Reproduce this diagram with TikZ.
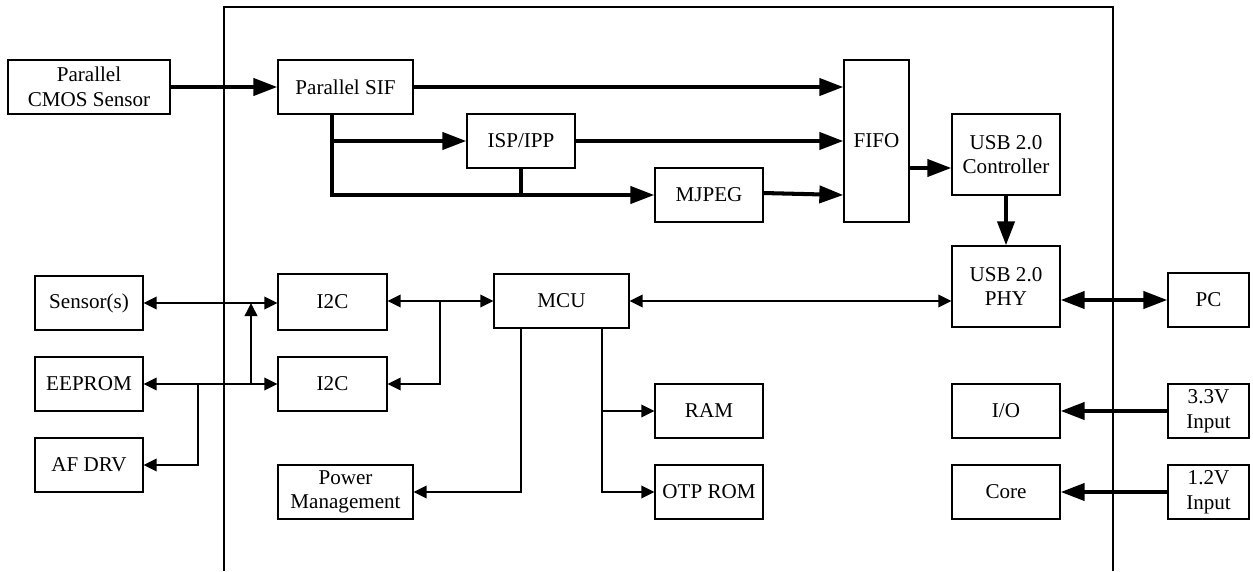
\documentclass[tikz,border=0pt]{standalone}
\usepackage{fontspec}
\setmainfont{Liberation Serif}
\usetikzlibrary{arrows.meta,calc}
\begin{document}
\begin{tikzpicture}[x=0.02cm,y=-0.02cm,
  box/.style={draw, line width=0.75pt, inner sep=0pt, align=center,
    font=\fontsize{12}{14}\selectfont, minimum width=2.16cm, minimum height=1.08cm},
  frameline/.style={line width=1.1pt},
  bigline/.style={line width=2.3pt},
  bigarrow/.style={line width=2.3pt, -{Triangle[length=0.48cm,width=0.34cm]}},
  bigboth/.style={line width=2.3pt, {Triangle[length=0.48cm,width=0.34cm]}-{Triangle[length=0.48cm,width=0.34cm]}},
  smallline/.style={line width=1.1pt},
  smallarrow/.style={line width=1.1pt, -{Triangle[length=0.26cm,width=0.25cm]}},
  smallboth/.style={line width=1.1pt, {Triangle[length=0.26cm,width=0.25cm]}-{Triangle[length=0.26cm,width=0.25cm]}}]
\useasboundingbox (0,0) rectangle (1253,571);
% chip outline
\draw[frameline] (224,571) -- (224,7) -- (1113,7) -- (1113,571);

% nodes
\node[box, minimum width=3.24cm] (cmos) at (89,87) {Parallel\\CMOS Sensor};
\node[box, minimum width=2.7cm] (sif) at (345.5,87) {Parallel SIF};
\node[box] (isp) at (521,141) {ISP/IPP};
\node[box] (mjpeg) at (709,195) {MJPEG};
\node[box, minimum width=1.3cm, minimum height=3.24cm] (fifo) at (876.5,141) {FIFO};
\node[box, minimum height=1.62cm] (usbc) at (1006,154.5) {USB 2.0\\Controller};
\node[box, minimum height=1.62cm] (phy) at (1006,286.5) {USB 2.0\\PHY};
\node[box, minimum width=1.62cm] (pc) at (1208.5,300) {PC};
\node[box] (sens) at (89,303) {Sensor(s)};
\node[box] (eeprom) at (89,384) {EEPROM};
\node[box] (afdrv) at (89,465) {AF DRV};
\node[box, minimum width=2.18cm, minimum height=1.12cm] (i2ca) at (332.5,302) {I2C};
\node[box, minimum width=2.18cm] (i2cb) at (332.5,384) {I2C};
\node[box, minimum width=2.7cm] (mcu) at (561.5,301) {MCU};
\node[box] (ram) at (709,411) {RAM};
\node[box] (otp) at (709,492) {OTP ROM};
\node[box, minimum width=2.7cm] (pwr) at (345.5,492) {Power\\Management};
\node[box] (io) at (1006,411) {I/O};
\node[box] (core) at (1006,492) {Core};
\node[box, minimum width=1.62cm] (v33) at (1208.5,411) {3.3V\\Input};
\node[box, minimum width=1.62cm] (v12) at (1208.5,492) {1.2V\\Input};

% helper coordinates
\coordinate (sifout) at (332,114);
\coordinate (ja) at (332,141);
\coordinate (jb) at (332,195);
\coordinate (ispdown) at (521,195);
\coordinate (mjout) at (763,193);
\coordinate (fifoout) at (909,168);
\coordinate (up) at (251,384);
\coordinate (upt) at (251,303);
\coordinate (af) at (198,384);
\coordinate (br) at (440,301);
\coordinate (m1) at (521,328);
\coordinate (m2) at (602,328);
\coordinate (m3) at (602,411);

% video path (thick)
\draw[bigarrow] (cmos.east) -- (sif.west);
\draw[bigarrow] (sif.east) -- (sif -| fifo.west);
\draw[bigarrow] (sifout) -- (jb) -- (mjpeg.west);
\draw[bigarrow] (ja) -- (isp.west);
\draw[bigline] (isp.south) -- (ispdown);
\draw[bigarrow] (isp.east) -- (isp -| fifo.west);
\draw[bigarrow] (mjout) -- (mjpeg -| fifo.west);
\draw[bigarrow] (fifoout) -- (fifoout -| usbc.west);
\draw[bigarrow] (usbc.south) -- (phy.north);
\draw[bigboth] (pc -| phy.east) -- (pc.west);
\draw[bigarrow] (v33.west) -- (io.east);
\draw[bigarrow] (v12.west) -- (core.east);

% control path (thin)
\draw[smallboth] (sens.east) -- (sens -| i2ca.west);
\draw[smallboth] (eeprom.east) -- (i2cb.west);
\draw[smallarrow] (up) -- (upt);
\draw[smallarrow] (af) |- (afdrv.east);
\draw[smallboth] (mcu -| i2ca.east) -- (mcu.west);
\draw[smallarrow] (br) |- (i2cb.east);
\draw[smallboth] (mcu.east) -- (mcu -| phy.west);
\draw[smallarrow] (m1) |- (pwr.east);
\draw[smallarrow] (m2) |- (otp.west);
\draw[smallarrow] (m3) -- (ram.west);
\end{tikzpicture}
\end{document}
